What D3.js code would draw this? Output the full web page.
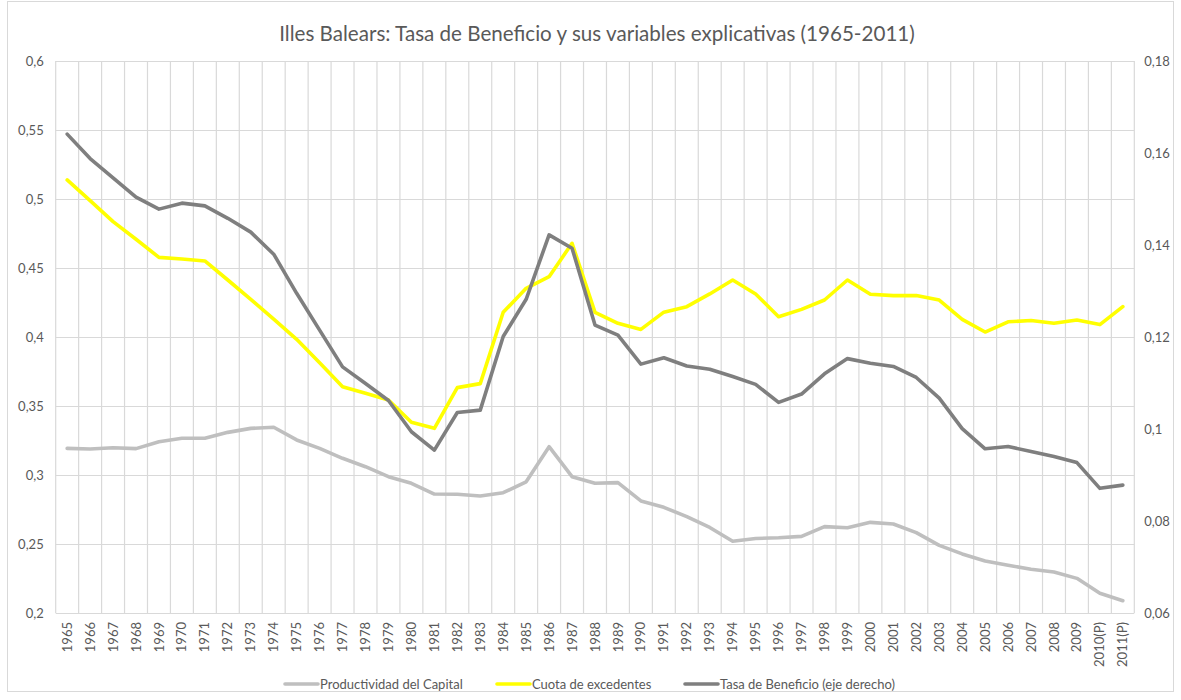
<!DOCTYPE html>
<html><head><meta charset="utf-8">
<script src="https://cdn.jsdelivr.net/npm/d3@7"></script>
<style>body{margin:0;background:#fff;}svg{display:block;font-family:Lato,"Open Sans",sans-serif;}</style>
</head><body>
<script>
const years = ["1965","1966","1967","1968","1969","1970","1971","1972","1973","1974","1975","1976","1977","1978","1979","1980","1981","1982","1983","1984","1985","1986","1987","1988","1989","1990","1991","1992","1993","1994","1995","1996","1997","1998","1999","2000","2001","2002","2003","2004","2005","2006","2007","2008","2009","2010(P)","2011(P)"];
const productividad = [0.3193,0.3188,0.3198,0.3191,0.3241,0.3266,0.3266,0.3309,0.3338,0.3346,0.3254,0.3193,0.3121,0.3060,0.2988,0.2940,0.2862,0.2860,0.2848,0.2872,0.2951,0.3205,0.2988,0.2940,0.2945,0.2812,0.2766,0.2698,0.2620,0.2520,0.2540,0.2545,0.2555,0.2626,0.2618,0.2657,0.2645,0.2582,0.2490,0.2428,0.2377,0.2346,0.2317,0.2297,0.2251,0.2143,0.2089];
const cuota = [0.5138,0.4988,0.4836,0.4708,0.4577,0.4565,0.4551,0.4413,0.4273,0.4130,0.3983,0.3814,0.3640,0.3592,0.3543,0.3382,0.3338,0.3633,0.3662,0.4179,0.4353,0.4437,0.4679,0.4179,0.4099,0.4055,0.4180,0.4220,0.4312,0.4413,0.4312,0.4147,0.4200,0.4268,0.4413,0.4310,0.4300,0.4300,0.4268,0.4128,0.4036,0.4110,0.4120,0.4100,0.4123,0.4090,0.4220];
const tasa = [0.1641,0.1588,0.1546,0.1504,0.1478,0.1491,0.1485,0.1458,0.1428,0.1380,0.1295,0.1215,0.1135,0.1099,0.1062,0.0994,0.0954,0.1036,0.1041,0.1201,0.1282,0.1422,0.1393,0.1226,0.1204,0.1141,0.1155,0.1137,0.1130,0.1114,0.1097,0.1058,0.1076,0.1120,0.1153,0.1143,0.1136,0.1112,0.1067,0.1001,0.0957,0.0962,0.0951,0.0940,0.0927,0.0871,0.0878];
const leftTicks = [0.2,0.25,0.3,0.35,0.4,0.45,0.5,0.55,0.6];
const rightTicks = [0.06,0.08,0.1,0.12,0.14,0.16,0.18];
const title = "Illes Balears: Tasa de Beneficio y sus variables explicativas (1965-2011)";
const seriesNames = ["Productividad del Capital","Cuota de excedentes","Tasa de Beneficio (eje derecho)"];

const W = 1181, H = 700;
const m = {left: 55.7, right: 1134.3, top: 61, bottom: 613};
const svg = d3.select("body").append("svg").attr("width", W).attr("height", H);

svg.append("rect").attr("x",7.5).attr("y",1.5).attr("width",1166).attr("height",690)
  .attr("fill","#fff").attr("stroke","#D9D9D9").attr("stroke-width",1);

const x = d3.scaleBand().domain(years).range([m.left, m.right]).padding(0);
const yL = d3.scaleLinear().domain([0.2,0.6]).range([m.bottom, m.top]);
const yR = d3.scaleLinear().domain([0.06,0.18]).range([m.bottom, m.top]);
const fmt = v => String(+v.toFixed(2)).replace(".", ",");
const cx = d => x(d) + x.bandwidth()/2;
const textColor = "#595959", gridColor = "#D9D9D9";

// horizontal gridlines
svg.append("g").selectAll("line").data(leftTicks).join("line")
  .attr("x1", m.left).attr("x2", m.right)
  .attr("y1", d => Math.round(yL(d))+0.5).attr("y2", d => Math.round(yL(d))+0.5)
  .attr("stroke", gridColor).attr("stroke-width", 1.2);
// vertical gridlines at category boundaries
const bounds = years.map(d => x(d)).concat([m.right]);
svg.append("g").selectAll("line").data(bounds).join("line")
  .attr("x1", d => d).attr("x2", d => d)
  .attr("y1", m.top).attr("y2", m.bottom)
  .attr("stroke", gridColor).attr("stroke-width", 1.2);

// axes
const gL = svg.append("g").attr("transform", `translate(${m.left},0)`)
  .call(d3.axisLeft(yL).tickValues(leftTicks).tickFormat(fmt).tickSize(0).tickPadding(12));
const gR = svg.append("g").attr("transform", `translate(${m.right},0)`)
  .call(d3.axisRight(yR).tickValues(rightTicks).tickFormat(fmt).tickSize(0).tickPadding(10));
const gB = svg.append("g").attr("transform", `translate(0,${m.bottom})`)
  .call(d3.axisBottom(x).tickSize(0).tickPadding(0));
[gL,gR,gB].forEach(g => { g.select(".domain").remove(); g.selectAll("text").attr("fill", textColor).style("font-size","13px").style("font-family","Lato, sans-serif"); });
gB.selectAll(".tick text")
  .attr("transform", "rotate(-90)")
  .attr("text-anchor", "end")
  .attr("x", -9).attr("y", 0).attr("dy", "0.35em");

// lines
const line = (sc) => d3.line().x((d,i) => cx(years[i])).y(d => sc(d));
const series = [
  {vals: productividad, sc: yL, color: "#BFBFBF"},
  {vals: cuota, sc: yL, color: "#FFFF00"},
  {vals: tasa, sc: yR, color: "#7F7F7F"}
];
series.forEach(s => {
  svg.append("path").datum(s.vals).attr("d", line(s.sc)(s.vals))
    .attr("fill","none").attr("stroke", s.color).attr("stroke-width", 3.6)
    .attr("stroke-linejoin","round").attr("stroke-linecap","round");
});

// title
svg.append("text").attr("x", 597).attr("y", 40.5).attr("text-anchor","middle")
  .attr("fill", textColor).style("font-size","20.6px").text(title);

// legend
const legX = [285, 497, 685];
const lg = svg.append("g");
series.forEach((s,i) => {
  lg.append("line").attr("x1", legX[i]).attr("x2", legX[i]+33).attr("y1", 684).attr("y2", 684)
    .attr("stroke", s.color).attr("stroke-width", 3.6).attr("stroke-linecap","round");
  lg.append("text").attr("x", legX[i]+35).attr("y", 684).attr("dy","0.35em")
    .attr("fill", textColor).style("font-size","13px").text(seriesNames[i]);
});
</script>
</body></html>
